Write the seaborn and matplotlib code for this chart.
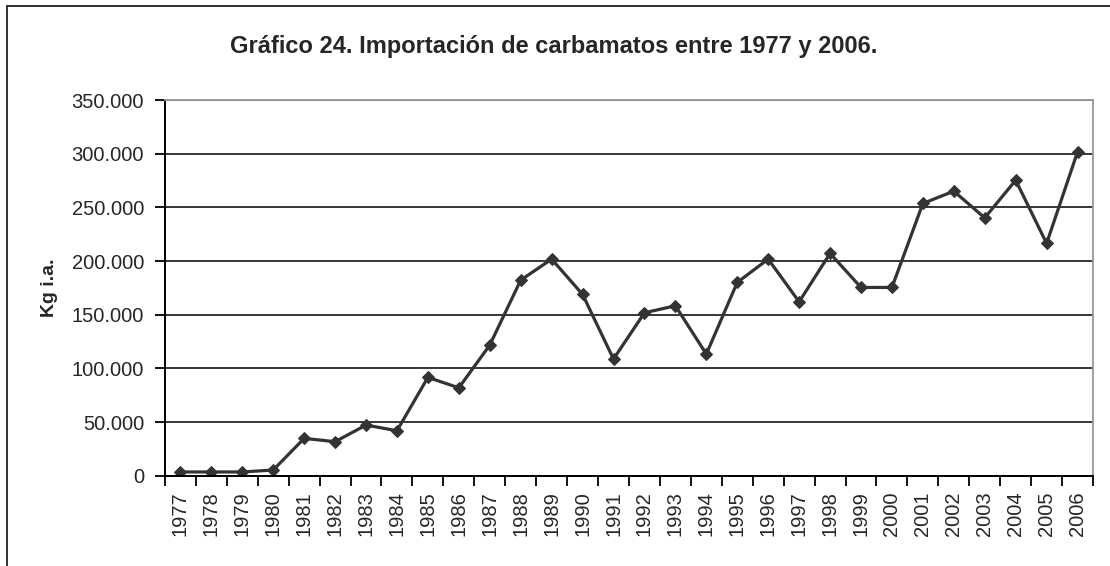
import matplotlib
matplotlib.use("Agg")
import matplotlib.pyplot as plt
from matplotlib.ticker import FuncFormatter, MultipleLocator
from matplotlib.lines import Line2D
import seaborn as sns
import pandas as pd

years = list(range(1977, 2007))
kg_ia = [3500, 3500, 3500, 5300, 34800, 31700, 47200, 41900, 91600, 81900,
         121700, 182200, 201800, 168900, 108700, 151800, 158300, 113300, 180100, 201800,
         162000, 207100, 175400, 175400, 253600, 265100, 240200, 275300, 216400, 301700]
y_ticks = list(range(0, 350001, 50000))

title = "Gráfico 24. Importación de carbamatos entre 1977 y 2006."

sns.set_style("white")
plt.rcParams['font.family'] = ['Liberation Sans', 'DejaVu Sans']

df = pd.DataFrame({"year": years, "kg": kg_ia})

fig = plt.figure(figsize=(11.1, 5.66), dpi=100)
ax = fig.add_axes([0.1486, 0.1595, 0.8361, 0.6638])

sns.lineplot(data=df, x="year", y="kg", ax=ax, color="#333333", linewidth=2.3,
             marker="D", markersize=6.5, markeredgecolor="#333333")

ax.set_xlim(years[0] - 0.5, years[-1] + 0.5)
ax.set_ylim(0, 350000)
ax.set_yticks(y_ticks)
ax.yaxis.set_major_formatter(FuncFormatter(lambda v, p: f"{int(v):,}".replace(",", ".")))
ax.set_xticks(years)
ax.set_xticklabels([str(y) for y in years], rotation=90)
ax.xaxis.set_minor_locator(MultipleLocator(1, offset=0.5))

ax.grid(axis="y", color="black", linewidth=1.1)
ax.set_axisbelow(True)
ax.tick_params(axis="y", which="major", direction="out", length=7, width=1.3,
               color="black", pad=8, labelsize=14.5)
ax.tick_params(axis="x", which="major", length=0, pad=11, labelsize=14.5)
ax.tick_params(axis="x", which="minor", direction="out", length=7, width=1.3,
               color="black", bottom=True)
ax.tick_params(axis="y", left=True)

for s in ["left", "bottom"]:
    ax.spines[s].set_color("black")
    ax.spines[s].set_linewidth(1.4)
for s in ["top", "right"]:
    ax.spines[s].set_color("#999999")
    ax.spines[s].set_linewidth(1.3)

ax.set_xlabel("")
ax.set_ylabel("Kg i.a.", fontsize=14, fontweight="bold", labelpad=10)

fig.text(0.499, 0.918, title, ha="center", va="center", fontsize=17,
         fontweight="bold")

# outer frame (top and left edges visible)
fig.add_artist(Line2D([0.006, 1.0], [0.989, 0.989], color="#222222", linewidth=1.3,
                      transform=fig.transFigure))
fig.add_artist(Line2D([0.006, 0.006], [0.0, 0.989], color="#222222", linewidth=1.3,
                      transform=fig.transFigure))

fig.savefig("out.png", dpi=100)
